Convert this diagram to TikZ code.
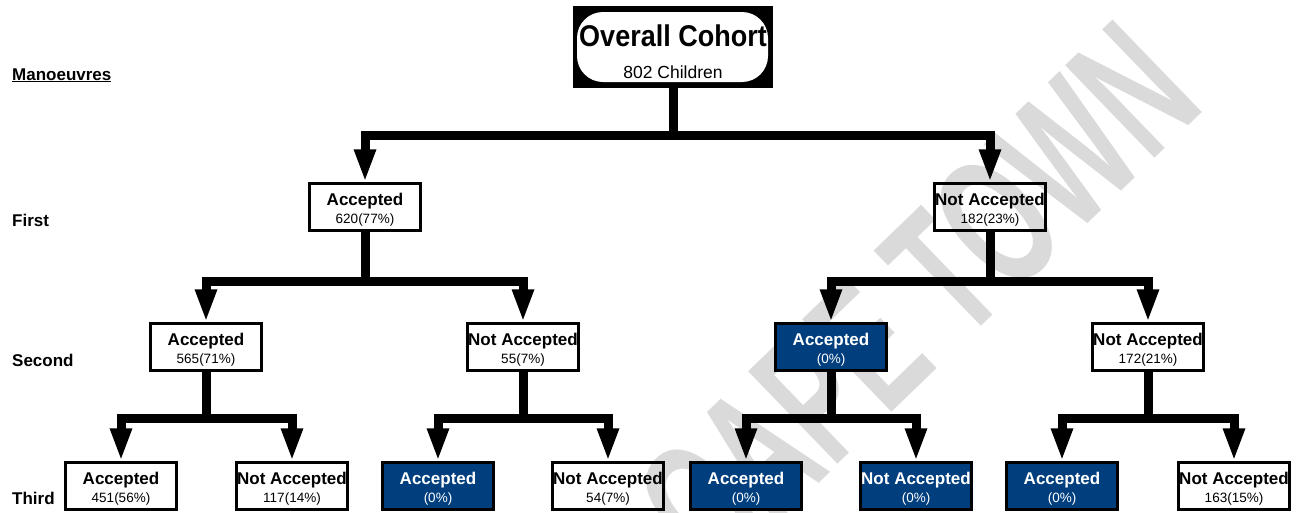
\documentclass[tikz,border=0pt]{standalone}
\usepackage{fontspec}
\setmainfont{Liberation Sans}
\usepackage{xcolor}
\definecolor{dark_blue}{RGB}{0,62,126}
\definecolor{light_grey}{RGB}{218,218,218}
\usetikzlibrary{arrows.meta}
\newcommand{\twolines}[2]{{\fontsize{17}{18}\selectfont\bfseries #1\rule{0pt}{18.4pt}}\\#2}

\begin{document}
\begin{tikzpicture}[x=1pt, y=-1pt,
  box/.style={draw=black, line width=2.5pt, minimum width=111pt, minimum height=47pt,
    inner xsep=0pt, inner ysep=0pt, align=center, font=\fontsize{13.5}{18}\selectfont},
  bluebox/.style={box, fill=dark_blue, text=white},
  rootbox/.style={rectangle, fill=black, minimum width=200pt, minimum height=82pt,
    inner sep=0pt, align=center, font=\fontsize{17.5}{32}\selectfont,
    path picture={\fill[white, rounded corners=26pt]
      ([shift={(4pt,6pt)}]path picture bounding box.south west) rectangle
      ([shift={(-5pt,-6pt)}]path picture bounding box.north east);}},
  level/.style={anchor=base west, inner sep=0pt, font=\fontsize{17}{17}\selectfont\bfseries},
  conn/.style={line width=9pt, -{Triangle[length=33pt,width=20pt]}},
  watermark/.style={anchor=base, rotate=44, inner sep=0pt, text=light_grey}]

\useasboundingbox (0,0) rectangle (1299,512);

\begin{scope}
\clip (0,0) rectangle (1299,512);
\node[watermark] (wm) at (962,345) {\scalebox{0.6}[1]{\fontsize{187}{187}\selectfont\bfseries CAPE TOWN}};
\end{scope}

\node[level] (lman) at (12,80) {\underline{Manoeuvres}};
\node[level] (lfirst) at (12,226) {First};
\node[level] (lsecond) at (12,366) {Second};
\node[level] (lthird) at (12,504) {Third};

\node[rootbox] (root) at (673,47) {{\scalebox{0.9}[1]{\fontsize{30}{30}\selectfont\bfseries Overall Cohort}\rule{0pt}{32pt}}\\802 Children};

\node[box] (acc) at (365,207) {\twolines{Accepted}{620(77\%)}};
\node[box] (nacc) at (990,207) {\twolines{Not Accepted}{182(23\%)}};

\node[box] (accacc) at (206,347) {\twolines{Accepted}{565(71\%)}};
\node[box] (accnacc) at (523,347) {\twolines{Not Accepted}{55(7\%)}};
\node[bluebox] (naccacc) at (831,347) {\twolines{Accepted}{(0\%)}};
\node[box] (naccnacc) at (1148,347) {\twolines{Not Accepted}{172(21\%)}};

\node[box] (aaa) at (121,486) {\twolines{Accepted}{451(56\%)}};
\node[box] (aan) at (292,486) {\twolines{Not Accepted}{117(14\%)}};
\node[bluebox] (ana) at (438,486) {\twolines{Accepted}{(0\%)}};
\node[box] (ann) at (608,486) {\twolines{Not Accepted}{54(7\%)}};
\node[bluebox] (naa) at (746,486) {\twolines{Accepted}{(0\%)}};
\node[bluebox] (nan) at (916,486) {\twolines{Not Accepted}{(0\%)}};
\node[bluebox] (nna) at (1062,486) {\twolines{Accepted}{(0\%)}};
\node[box] (nnn) at (1234,486) {\twolines{Not Accepted}{163(15\%)}};

\draw[conn] (root.south) -- ++(0,47) -| (acc.north);
\draw[conn] (root.south) -- ++(0,47) -| (nacc.north);

\draw[conn] (acc.south) -- ++(0,50) -| (accacc.north);
\draw[conn] (acc.south) -- ++(0,50) -| (accnacc.north);
\draw[conn] (nacc.south) -- ++(0,50) -| (naccacc.north);
\draw[conn] (nacc.south) -- ++(0,50) -| (naccnacc.north);

\draw[conn] (accacc.south) -- ++(0,47) -| (aaa.north);
\draw[conn] (accacc.south) -- ++(0,47) -| (aan.north);
\draw[conn] (accnacc.south) -- ++(0,47) -| (ana.north);
\draw[conn] (accnacc.south) -- ++(0,47) -| (ann.north);
\draw[conn] (naccacc.south) -- ++(0,47) -| (naa.north);
\draw[conn] (naccacc.south) -- ++(0,47) -| (nan.north);
\draw[conn] (naccnacc.south) -- ++(0,47) -| (nna.north);
\draw[conn] (naccnacc.south) -- ++(0,47) -| (nnn.north);

\end{tikzpicture}
\end{document}
